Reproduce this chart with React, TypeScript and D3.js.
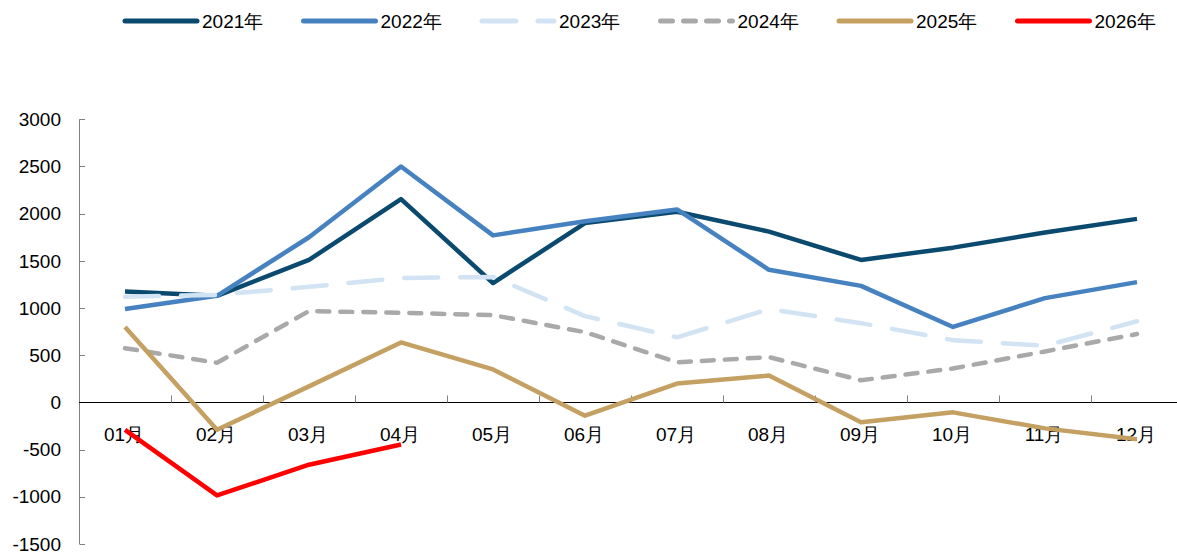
import React, { useEffect, useRef } from "react";
import * as d3 from "d3";

const months = ["01月", "02月", "03月", "04月", "05月", "06月", "07月", "08月", "09月", "10月", "11月", "12月"];
const yTicks = [-1500, -1000, -500, 0, 500, 1000, 1500, 2000, 2500, 3000];

const s2021 = [1175, 1130, 1510, 2155, 1265, 1900, 2020, 1810, 1510, 1640, 1800, 1945];
const s2022 = [990, 1130, 1750, 2500, 1770, 1920, 2045, 1405, 1235, 800, 1105, 1275];
const s2023 = [1120, 1140, 1225, 1318, 1330, 915, 690, 990, 840, 660, 600, 860];
const s2024 = [575, 420, 968, 950, 925, 745, 425, 480, 235, 360, 540, 725];
const s2025 = [800, -290, 170, 636, 350, -140, 200, 285, -210, -105, -275, -390];
const s2026 = [-290, -985, -660, -445];

const series = [
  { name: "2021年", values: s2021, color: "#0B4A6F", dash: null },
  { name: "2022年", values: s2022, color: "#4682C0", dash: null },
  { name: "2023年", values: s2023, color: "#D2E4F4", dash: "34,22" },
  { name: "2024年", values: s2024, color: "#A9A9A9", dash: "12,11" },
  { name: "2025年", values: s2025, color: "#C4A062", dash: null },
  { name: "2026年", values: s2026, color: "#FF0000", dash: null },
];

const W = 1177;
const H = 552;
const FONT = "'Liberation Sans', Arial, sans-serif";
const FS = 19;

export default function App() {
  const ref = useRef<SVGSVGElement>(null);

  useEffect(() => {
    const svg = d3.select(ref.current);
    svg.selectAll("*").remove();

    const x = d3.scaleBand<string>().domain(months).range([79, 1183]);
    const y = d3.scaleLinear().domain([-1500, 3000]).range([544, 119.3]);
    const cx = (i: number) => (x(months[i]) as number) + x.bandwidth() / 2;

    // y axis
    svg.append("line")
      .attr("x1", 79.5).attr("x2", 79.5)
      .attr("y1", y(-1500)).attr("y2", y(3000))
      .attr("stroke", "#808080").attr("stroke-width", 1);
    svg.selectAll(".ytick")
      .data(yTicks)
      .enter()
      .append("line")
      .attr("x1", 79.5).attr("x2", 85)
      .attr("y1", (d) => Math.round(y(d)) + 0.5)
      .attr("y2", (d) => Math.round(y(d)) + 0.5)
      .attr("stroke", "#808080");
    svg.selectAll(".ylab")
      .data(yTicks)
      .enter()
      .append("text")
      .attr("x", 61)
      .attr("y", (d) => y(d))
      .attr("dy", "0.35em")
      .attr("text-anchor", "end")
      .attr("font-family", FONT)
      .attr("font-size", FS)
      .attr("fill", "#000")
      .text((d) => d);

    // zero line with category ticks
    const y0 = Math.round(y(0)) + 0.5;
    svg.append("line")
      .attr("x1", 79).attr("x2", W)
      .attr("y1", y0).attr("y2", y0)
      .attr("stroke", "#000").attr("stroke-width", 1);
    svg.selectAll(".xtick")
      .data(months.slice(1))
      .enter()
      .append("line")
      .attr("x1", (d) => Math.round(x(d) as number) + 0.5)
      .attr("x2", (d) => Math.round(x(d) as number) + 0.5)
      .attr("y1", y0).attr("y2", y0 - 7)
      .attr("stroke", "#808080");
    svg.selectAll(".xlab")
      .data(months)
      .enter()
      .append("text")
      .attr("x", (d, i) => cx(i) - 1)
      .attr("y", 441)
      .attr("text-anchor", "middle")
      .attr("font-family", FONT)
      .attr("font-size", FS)
      .attr("fill", "#000")
      .text((d) => d);

    // lines
    const line = d3.line<number>()
      .x((d, i) => cx(i))
      .y((d) => y(d));
    series.forEach((s) => {
      svg.append("path")
        .datum(s.values)
        .attr("fill", "none")
        .attr("stroke", s.color)
        .attr("stroke-width", 4.5)
        .attr("stroke-linejoin", "round")
        .attr("stroke-linecap", s.dash ? "round" : "butt")
        .attr("stroke-dasharray", s.dash)
        .attr("d", line);
    });

    // legend
    const lg = svg.append("g");
    series.forEach((s, i) => {
      const lx = 125 + i * 178.5;
      lg.append("line")
        .attr("x1", lx).attr("x2", lx + 72)
        .attr("y1", 21).attr("y2", 21)
        .attr("stroke", s.color)
        .attr("stroke-width", 5)
        .attr("stroke-linecap", "round")
        .attr("stroke-dasharray", s.dash);
      lg.append("text")
        .attr("x", lx + 77)
        .attr("y", 28)
        .attr("font-family", FONT)
        .attr("font-size", FS)
        .attr("fill", "#000")
        .text(s.name);
    });
  }, []);

  return (
    <svg
      ref={ref}
      width={W}
      height={H}
      style={{ position: "absolute", left: 0, top: 0, background: "#fff" }}
    />
  );
}
